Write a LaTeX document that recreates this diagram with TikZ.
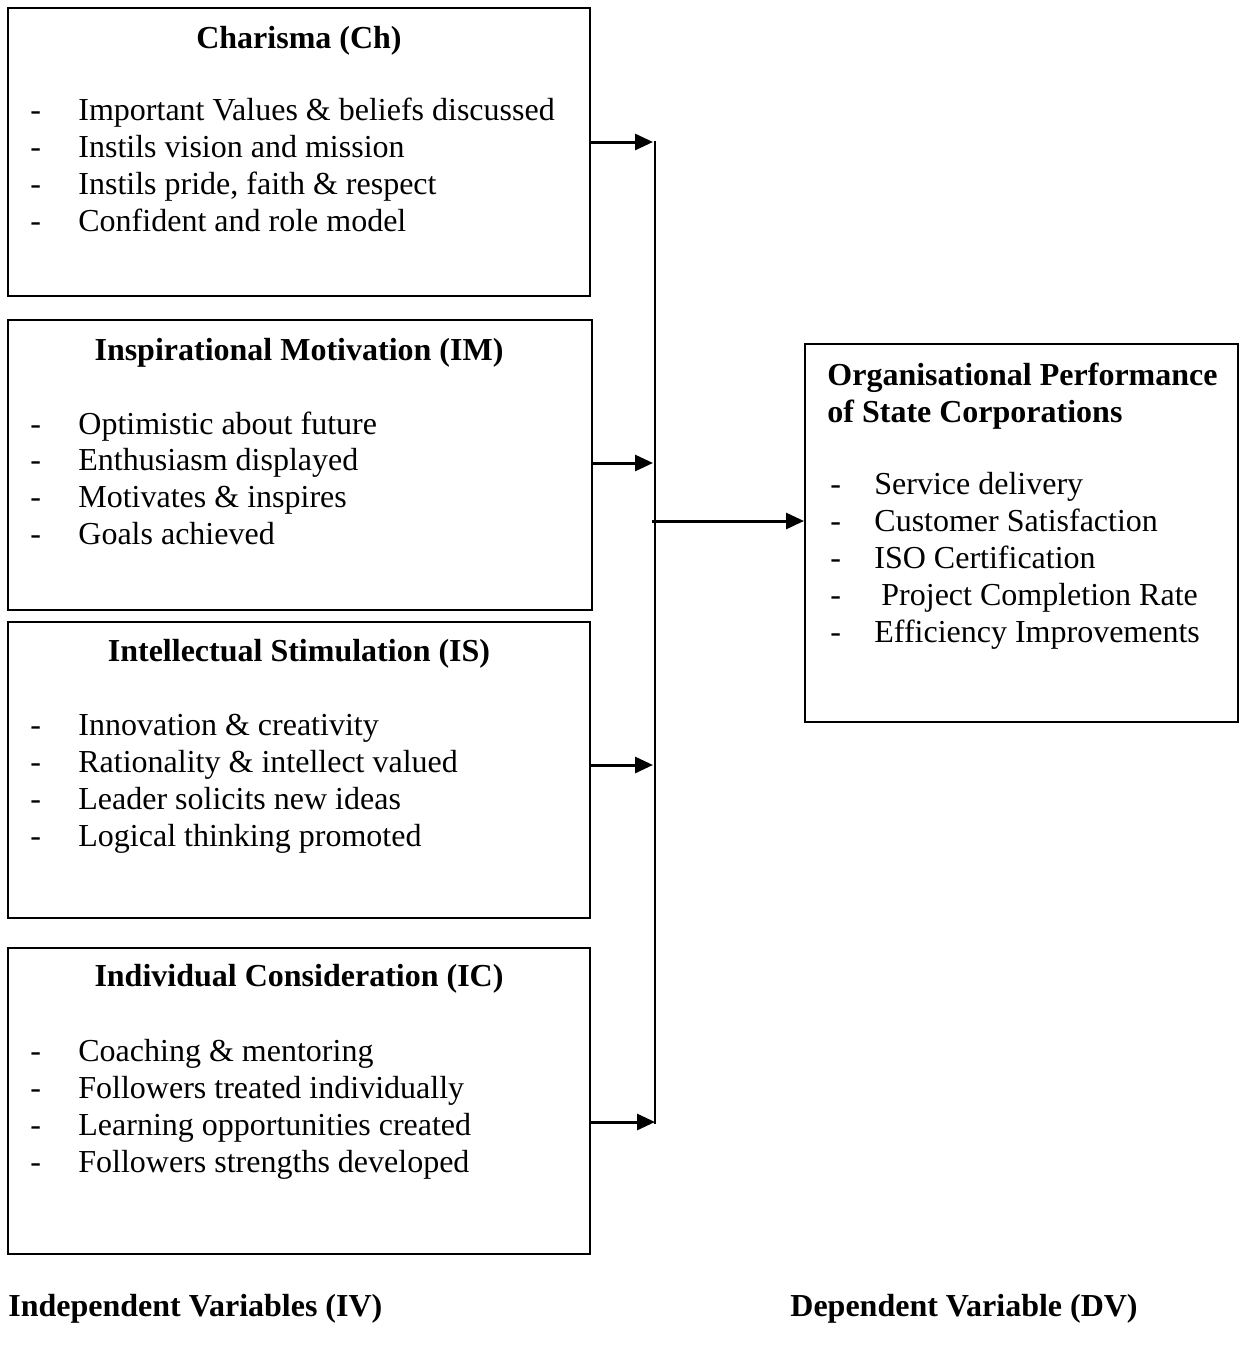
\documentclass[tikz,border=0pt]{standalone}
\usepackage{fontspec}
\setmainfont{Liberation Serif}
\usetikzlibrary{arrows.meta}
\begin{document}
\begin{tikzpicture}[x=0.5pt,y=-0.5pt,
  box/.style={draw,line width=1pt,inner sep=0pt,rectangle},
  txt/.style={anchor=base west,inner sep=0pt,font=\fontsize{16}{18.5}\selectfont},
  ttl/.style={anchor=base,inner sep=0pt,font=\fontsize{16}{18.5}\selectfont\bfseries},
  btxt/.style={txt,font=\fontsize{16}{18.5}\selectfont\bfseries},
  conn/.style={line width=1.5pt,-{Triangle[length=9pt,width=8pt]}},
  vline/.style={line width=1pt}]
\useasboundingbox (0,0) rectangle (1241,1349);
% boxes
\node[box,minimum width=291pt,minimum height=144pt] (b1) at (299,152) {};
\node[box,minimum width=292pt,minimum height=145pt] (b2) at (300,465) {};
\node[box,minimum width=291pt,minimum height=148pt] (b3) at (299,770) {};
\node[box,minimum width=291pt,minimum height=153pt] (b4) at (299,1101) {};
\node[box,minimum width=216.5pt,minimum height=189pt] (dv) at (1021.5,533) {};
% titles
\node[ttl] (t1) at (299,48) {Charisma (Ch)};
\node[ttl] (t2) at (299,360) {Inspirational Motivation (IM)};
\node[ttl] (t3) at (299,661) {Intellectual Stimulation (IS)};
\node[ttl] (t4) at (299,986) {Individual Consideration (IC)};
\node[btxt] (td1) at (827,385) {Organisational Performance};
\node[btxt] (td2) at (827,422) {of State Corporations};
% items
\foreach \t [count=\i] in {Important Values \& beliefs discussed, Instils vision and mission, {Instils pride, faith \& respect}, Confident and role model}{
  \node[txt] (b1d\i) at (30,{120+37*(\i-1)}) {-};
  \node[txt] (b1t\i) at (78,{120+37*(\i-1)}) {\t};
}
\foreach \t [count=\i] in {Optimistic about future, Enthusiasm displayed, Motivates \& inspires, Goals achieved}{
  \node[txt] (b2d\i) at (30,{434+36.7*(\i-1)}) {-};
  \node[txt] (b2t\i) at (78,{434+36.7*(\i-1)}) {\t};
}
\foreach \t [count=\i] in {Innovation \& creativity, Rationality \& intellect valued, Leader solicits new ideas, Logical thinking promoted}{
  \node[txt] (b3d\i) at (30,{735+37*(\i-1)}) {-};
  \node[txt] (b3t\i) at (78,{735+37*(\i-1)}) {\t};
}
\foreach \t [count=\i] in {Coaching \& mentoring, Followers treated individually, Learning opportunities created, Followers strengths developed}{
  \node[txt] (b4d\i) at (30,{1061+37*(\i-1)}) {-};
  \node[txt] (b4t\i) at (78,{1061+37*(\i-1)}) {\t};
}
\foreach \t/\xo [count=\i] in {Service delivery/874, Customer Satisfaction/874, ISO Certification/874, Project Completion Rate/881, Efficiency Improvements/874}{
  \node[txt] (dvd\i) at (830,{494+37*(\i-1)}) {-};
  \node[txt] (dvt\i) at (\xo,{494+37*(\i-1)}) {\t};
}
% bottom labels
\node[btxt] (iv) at (8,1316) {Independent Variables (IV)};
\node[btxt] (dvl) at (790,1316) {Dependent Variable (DV)};
% connectors
\coordinate (vt) at (655,141);
\coordinate (vb) at (655,1124);
\coordinate (c1) at (653,142);
\coordinate (c2) at (653,463);
\coordinate (c3) at (653,765);
\coordinate (c4) at (655,1122);
\coordinate (cm) at (652,521);
\draw[vline] (vt) -- (vb);
\draw[conn] (b1.east |- c1) -- (c1);
\draw[conn] (b2.east |- c2) -- (c2);
\draw[conn] (b3.east |- c3) -- (c3);
\draw[conn] (b4.east |- c4) -- (c4);
\draw[conn] (cm) -- (dv.west |- cm);
\end{tikzpicture}
\end{document}
